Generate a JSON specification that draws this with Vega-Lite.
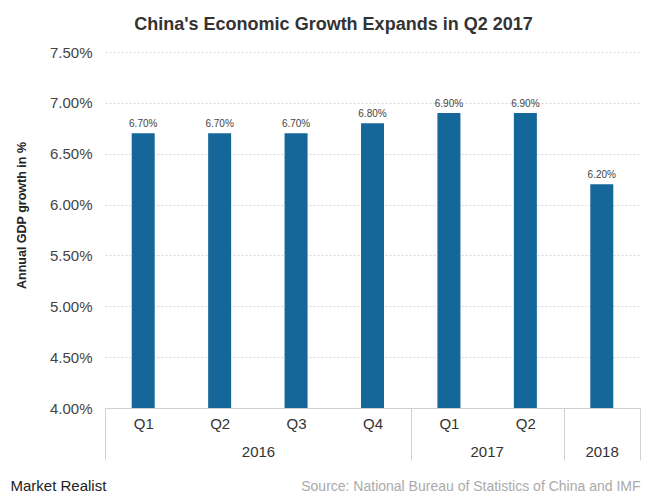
{
  "$schema": "https://vega.github.io/schema/vega-lite/v6.json",
  "width": 535,
  "height": 356,
  "autosize": "none",
  "padding": {"left": 105, "top": 52, "right": 20, "bottom": 95},
  "background": "white",
  "config": {
    "font": "Liberation Sans",
    "view": {"stroke": null}
  },
  "title": {
    "text": "China's Economic Growth Expands in Q2 2017",
    "fontSize": 18,
    "fontWeight": "bold",
    "color": "#333333",
    "font": "Liberation Sans",
    "anchor": "middle",
    "dx": -39,
    "offset": 11
  },
  "data": {
    "values": [
      {"period": "2016 Q1", "growth": 0.067},
      {"period": "2016 Q2", "growth": 0.067},
      {"period": "2016 Q3", "growth": 0.067},
      {"period": "2016 Q4", "growth": 0.068},
      {"period": "2017 Q1", "growth": 0.069},
      {"period": "2017 Q2", "growth": 0.069},
      {"period": "2018", "growth": 0.062}
    ]
  },
  "resolve": {"axis": {"x": "independent"}},
  "layer": [
    {
      "mark": {"type": "bar", "color": "#15679a", "width": 23},
      "encoding": {
        "x": {
          "field": "period",
          "type": "ordinal",
          "sort": null,
          "scale": {"paddingInner": 0, "paddingOuter": 0},
          "axis": {
            "orient": "bottom",
            "labelExpr": "datum.value && indexof(datum.value, ' ') > 0 ? substring(datum.value, 5) : ''",
            "labelAngle": 0,
            "labelFontSize": 15,
            "labelColor": "#333333",
            "labelPadding": -44,
            "labelOffset": -38.21,
            "labelBaseline": "top",
            "ticks": true,
            "tickSize": 52,
            "tickOffset": 38.21,
            "tickColor": "#d0d0d0",
            "tickOpacity": {"condition": {"test": "datum.value == '2018'", "value": 1}, "value": 0},
            "domain": true,
            "domainColor": "#d0d0d0",
            "grid": false,
            "labelOverlap": false,
            "labelBound": false,
            "labelFlush": false,
            "title": "Market Realist",
            "titleFontSize": 15,
            "titleFontWeight": "normal",
            "titleColor": "#222222",
            "titleAnchor": "start",
            "titleAlign": "left",
            "titleBaseline": "alphabetic",
            "titleX": -95,
            "titleY": 82
          }
        },
        "y": {
          "field": "growth",
          "type": "quantitative",
          "scale": {"domain": [0.04, 0.075], "zero": false, "nice": false},
          "axis": {
            "values": [0.04, 0.045, 0.05, 0.055, 0.06, 0.065, 0.07, 0.075],
            "format": ".2%",
            "labelFontSize": 15,
            "labelColor": "#444444",
            "labelPadding": 13,
            "ticks": false,
            "domain": false,
            "grid": true,
            "gridColor": "#d6d6d6",
            "gridDash": [2, 2],
            "title": "Annual GDP growth in %",
            "titleFontSize": 12.5,
            "titleFontWeight": "bold",
            "titleColor": "#222222",
            "titleX": -77,
            "titleY": 163
          }
        },
        "y2": {"datum": 0.04}
      }
    },
    {
      "mark": {"type": "text", "baseline": "bottom", "dy": -4, "fontSize": 10, "color": "#444444"},
      "encoding": {
        "x": {
          "field": "period",
          "type": "ordinal",
          "sort": null,
          "axis": {
            "orient": "bottom",
            "values": ["2016 Q1", "2017 Q1", "2018"],
            "ticks": true,
            "tickSize": 52,
            "tickOffset": -38.21,
            "tickColor": "#d0d0d0",
            "domain": false,
            "grid": false,
            "labelExpr": "datum.value ? substring(datum.value, 0, 4) : ''",
            "labelAngle": 0,
            "labelFontSize": 15,
            "labelColor": "#333333",
            "labelBaseline": "top",
            "labelPadding": -16,
            "labelOverlap": false,
            "labelBound": false,
            "labelFlush": false,
            "labelOffset": {"condition": [{"test": "datum.value == '2016 Q1'", "value": 153}, {"test": "datum.value == '2017 Q1'", "value": 76}], "value": 38},
            "title": "Source: National Bureau of Statistics of China and IMF",
            "titleFontSize": 14,
            "titleFontWeight": "normal",
            "titleColor": "#aaaaaa",
            "titleAnchor": "end",
            "titleAlign": "right",
            "titleBaseline": "alphabetic",
            "titleX": 535,
            "titleY": 82
          }
        },
        "y": {"field": "growth", "type": "quantitative"},
        "text": {"field": "growth", "type": "quantitative", "format": ".2%"}
      }
    }
  ]
}
